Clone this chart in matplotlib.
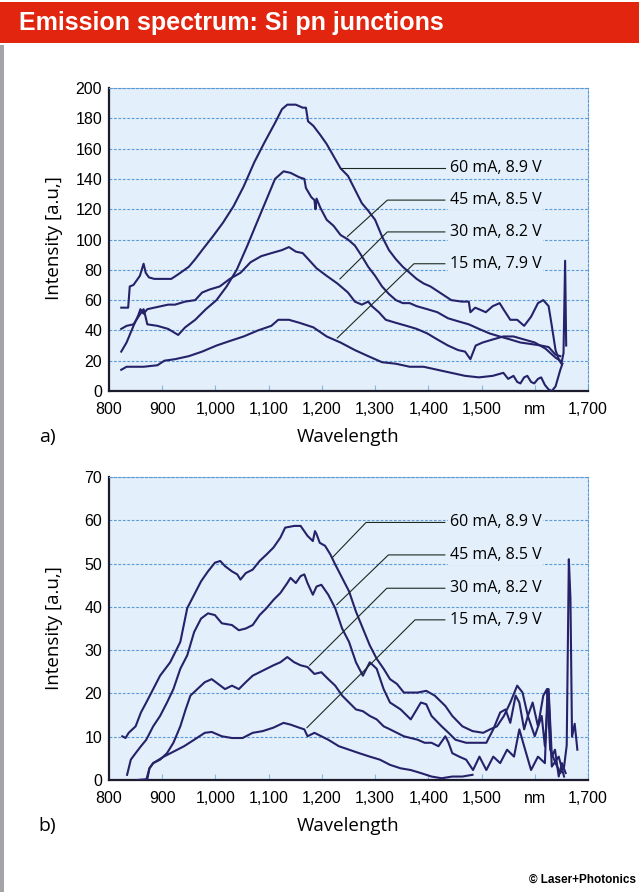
import matplotlib
matplotlib.use("Agg")
import matplotlib.pyplot as plt
from matplotlib import font_manager
from matplotlib.patches import Rectangle

# ---- data -----------------------------------------------------------------
LABELS = ["60 mA, 8.9 V", "45 mA, 8.5 V", "30 mA, 8.2 V", "15 mA, 7.9 V"]
XTICKS = [800, 900, 1000, 1100, 1200, 1300, 1400, 1500, 1600, 1700]
XTICK_LABELS = ["800", "900", "1,000", "1,100", "1,200", "1,300", "1,400",
                "1,500", "nm", "1,700"]

# panel a)
A60_WL = [823, 836, 839, 846, 852, 858, 865, 869, 875, 885, 900, 917, 930, 950,
          962, 975, 995, 1014, 1034, 1053, 1073, 1092, 1112, 1125, 1135, 1151,
          1164, 1170, 1174, 1184, 1197, 1209, 1222, 1235, 1249, 1262, 1275,
          1287, 1300, 1313, 1326, 1339, 1352, 1365, 1378, 1391, 1404, 1417,
          1430, 1443, 1463, 1476, 1479, 1488, 1495, 1508, 1521, 1534, 1541,
          1554, 1567, 1580, 1593, 1606, 1616, 1626, 1632, 1639, 1645, 1650,
          1654, 1657, 1659]
A60_I = [55, 55, 69, 70, 73, 76, 84, 78, 75, 74, 74, 74, 77, 82,
         87, 93, 102, 111, 122, 135, 151, 164, 177, 186, 189, 189,
         187, 187, 178, 175, 169, 163, 155, 147, 142, 133, 124,
         119, 113, 102, 93, 87, 82, 78, 74, 71, 69, 66,
         63, 60, 59, 59, 52, 55, 54, 52, 56, 58, 54,
         47, 47, 43, 49, 58, 60, 56, 43, 27, 21, 18,
         25, 86, 30]

A45_WL = [823, 833, 846, 859, 865, 868, 872, 891, 911, 930, 943, 962, 982,
          1002, 1021, 1040, 1060, 1080, 1099, 1112, 1128, 1141, 1158, 1167,
          1170, 1180, 1186, 1188, 1190, 1197, 1209, 1222, 1235, 1249, 1262,
          1275, 1287, 1300, 1313, 1326, 1339, 1352, 1365, 1378, 1398, 1417,
          1437, 1456, 1476, 1495, 1515, 1534, 1554, 1573, 1593, 1612, 1626,
          1639, 1648]
A45_I = [41, 43, 44, 51, 54, 50, 44, 43, 41, 37, 42, 47, 54,
         60, 69, 80, 96, 113, 129, 140, 145, 144, 141, 140,
         134, 128, 126, 120, 127, 121, 113, 109, 103, 100, 96,
         89, 82, 76, 69, 64, 60, 58, 58, 56, 54, 52,
         48, 46, 44, 41, 38, 36, 34, 32, 31, 30, 29,
         24, 23]

A30_WL = [823, 833, 846, 855, 859, 865, 872, 885, 898, 911, 924, 943, 962,
          975, 989, 1008, 1027, 1047, 1066, 1086, 1105, 1125, 1138, 1151,
          1164, 1177, 1190, 1209, 1229, 1249, 1262, 1275, 1287, 1294, 1307,
          1320, 1339, 1359, 1378, 1398, 1417, 1437, 1456, 1469, 1479, 1489,
          1502, 1521, 1541, 1560, 1580, 1600, 1620, 1639, 1648]
A30_I = [26, 32, 43, 50, 54, 51, 54, 55, 56, 57, 57, 59, 60,
         65, 67, 69, 74, 78, 85, 89, 91, 93, 95, 92,
         91, 86, 81, 76, 71, 65, 59, 57, 59, 56, 52,
         47, 45, 43, 41, 38, 34, 30, 27, 26, 21, 30,
         32, 34, 36, 36, 34, 32, 28, 22, 20]

A15_WL = [823, 833, 865, 891, 904, 924, 950, 975, 1002, 1027, 1053, 1080,
          1105, 1118, 1138, 1158, 1184, 1209, 1235, 1262, 1287, 1313, 1339,
          1365, 1391, 1417, 1443, 1469, 1495, 1521, 1541, 1550, 1560, 1567,
          1573, 1580, 1586, 1593, 1599, 1606, 1612, 1619, 1626, 1632, 1639,
          1648, 1652]
A15_I = [14, 16, 16, 17, 20, 21, 23, 26, 30, 33, 36, 40,
         43, 47, 47, 45, 42, 36, 32, 27, 23, 19, 18,
         16, 16, 14, 12, 10, 9, 10, 12, 8, 10, 6,
         5, 9, 10, 6, 5, 8, 9, 4, 1, 0, 3,
         14, 18]

# panel b)
B60_WL = [825, 831, 837, 850, 860, 870, 883, 896, 915, 934, 947, 960, 973,
          986, 999, 1009, 1018, 1031, 1041, 1047, 1057, 1070, 1083, 1096,
          1109, 1122, 1131, 1148, 1160, 1173, 1183, 1187, 1190, 1196, 1206,
          1216, 1225, 1238, 1251, 1264, 1277, 1290, 1303, 1316, 1328, 1341,
          1354, 1367, 1380, 1396, 1412, 1432, 1445, 1464, 1483, 1503, 1516,
          1529, 1542, 1554, 1567, 1577, 1587, 1596, 1606, 1616, 1623, 1629,
          1639, 1648, 1655, 1660, 1664, 1667, 1670, 1675, 1680]
B60_I = [10.1, 9.7, 10.9, 12.4, 15.6, 17.9, 21.0, 24.1, 27.2, 31.9, 39.7,
         42.8, 45.9, 48.2, 50.2, 50.6, 49.4, 48.2, 47.5, 46.3, 47.8, 48.6,
         50.6, 52.1, 53.7, 56.0, 58.3, 58.7, 58.7, 56.4, 55.2, 57.5, 56.8,
         54.8, 54.1, 52.1, 49.8, 46.7, 43.6, 38.9, 35.0, 31.1, 28.0, 25.7,
         23.3, 22.2, 20.2, 20.2, 20.2, 20.6, 19.5, 17.1, 14.8, 12.4, 11.3,
         10.9, 11.7, 12.4, 14.8, 17.9, 21.8, 20.2, 14.8, 17.9, 12.4, 19.5,
         21.0, 7.0, 3.9, 1.6, 3.0, 8.0, 51.0, 42.0, 10.0, 13.0, 7.0]

B45_WL = [834, 841, 850, 860, 870, 883, 896, 909, 921, 934, 947, 960, 973,
          986, 999, 1012, 1031, 1044, 1057, 1070, 1083, 1096, 1109, 1122,
          1135, 1141, 1151, 1160, 1167, 1173, 1183, 1190, 1199, 1212, 1225,
          1238, 1251, 1264, 1277, 1290, 1303, 1316, 1328, 1348, 1367, 1386,
          1396, 1406, 1425, 1438, 1451, 1471, 1490, 1509, 1522, 1535, 1545,
          1554, 1564, 1571, 1580, 1587, 1600, 1613, 1619, 1626, 1632, 1638,
          1645, 1651, 1658]
B45_I = [1.2, 4.7, 6.2, 7.8, 9.3, 12.4, 14.8, 17.9, 21.0, 25.7, 28.8, 34.2,
         37.3, 38.5, 38.1, 36.2, 35.8, 34.6, 35.0, 35.8, 38.1, 39.7, 41.6,
         43.2, 45.5, 46.7, 45.5, 47.1, 47.5, 45.5, 42.8, 44.7, 45.1, 42.8,
         39.7, 35.0, 31.9, 27.2, 24.1, 27.2, 25.7, 21.0, 17.9, 16.3, 14.0,
         17.9, 17.5, 14.8, 12.4, 10.9, 9.3, 8.6, 8.6, 8.6, 11.7, 15.6, 16.3,
         13.2, 19.5, 17.9, 11.7, 14.8, 10.1, 14.8, 7.8, 21.0, 5.4, 7.0,
         0.8, 3.9, 1.6]

B30_WL = [853, 872, 876, 883, 896, 909, 921, 934, 944, 953, 966, 980, 993,
          1005, 1018, 1031, 1044, 1057, 1070, 1083, 1096, 1109, 1122, 1135,
          1148, 1160, 1173, 1186, 1199, 1212, 1225, 1238, 1251, 1264, 1277,
          1290, 1303, 1316, 1328, 1341, 1354, 1367, 1380, 1393, 1406, 1419,
          1432, 1438, 1445, 1458, 1471, 1484, 1496, 1509, 1522, 1535, 1548,
          1561, 1571, 1580, 1593, 1606, 1619, 1624, 1626, 1632, 1645, 1655]
B30_I = [0.0, 0.2, 2.7, 3.9, 4.7, 6.2, 8.6, 12.4, 16.3, 19.5, 21.0, 22.6,
         23.3, 22.2, 21.0, 21.8, 21.0, 22.6, 24.1, 24.9, 25.7, 26.5, 27.2,
         28.4, 27.2, 26.5, 26.1, 24.5, 24.9, 23.3, 21.8, 19.5, 17.9, 16.3,
         15.9, 14.8, 14.0, 12.4, 11.7, 10.9, 10.1, 9.7, 9.3, 8.6, 8.6, 7.8,
         10.1, 8.6, 6.2, 5.4, 4.7, 2.3, 5.4, 2.3, 5.4, 3.9, 7.0, 5.4, 11.7,
         7.8, 2.3, 5.4, 3.9, 21.0, 19.5, 3.1, 5.4, 0.8]

B15_WL = [870, 876, 883, 903, 922, 941, 960, 980, 993, 1012, 1031, 1051,
          1070, 1089, 1109, 1128, 1141, 1157, 1167, 1173, 1186, 1199, 1212,
          1232, 1251, 1270, 1290, 1309, 1328, 1348, 1367, 1386, 1406, 1425,
          1445, 1464, 1483]
B15_I = [0.0, 2.7, 3.9, 5.4, 6.6, 7.8, 9.3, 10.9, 11.1, 10.1, 9.7, 9.7,
         10.9, 11.3, 12.1, 13.2, 12.8, 12.1, 11.7, 10.1, 10.9, 10.1, 9.3,
         7.8, 7.0, 6.2, 5.4, 4.7, 3.5, 2.7, 2.3, 1.6, 0.8, 0.4,
         0.8, 0.8, 1.2]

# label leader lines: curve point -> knee -> label row
A_LABEL_Y = [147, 126, 105, 84]
A_LEADER_X0 = [1235, 1248, 1234, 1229]
A_LEADER_Y0 = [147, 102, 74, 35]
A_LEADER_XK = [1235, 1323, 1323, 1373]
B_LABEL_Y = [59.5, 52.0, 44.3, 37.0]
B_LEADER_X0 = [1219, 1228, 1177, 1172]
B_LEADER_Y0 = [51.3, 40.5, 26.5, 12.1]
B_LEADER_XK = [1283, 1325, 1322, 1375]
LEADER_END = 1431
LABEL_X = 1440

# ---- style -----------------------------------------------------------------
W, H = 639, 892
BG = "#e3effa"
GRID = "#5d9bd6"
INK = "#25226a"
RED = "#e2250f"

names = {f.name for f in font_manager.fontManager.ttflist}
NARROW = "Liberation Sans Narrow" if "Liberation Sans Narrow" in names else None
TEXT_FONT = ["Open Sans", "DejaVu Sans"]
if NARROW:
    TICK_FONT, TICK_SIZE = [NARROW, "DejaVu Sans"], 12.5
    HEAD_SIZE = 21.5
else:
    TICK_FONT, TICK_SIZE = ["Liberation Sans", "DejaVu Sans"], 11.5
    HEAD_SIZE = 18


def fx(x):
    return x / W


def fy(y):
    return 1 - y / H


def panel(ax, curves, ymax, ystep, label_y, lx0, ly0, lxk):
    ax.set_facecolor(BG)
    for wl, inten in curves:
        ax.plot(wl, inten, color=INK, lw=1.5, zorder=3, solid_joinstyle="round")
    for text, y, x0, y0, xk in zip(LABELS, label_y, lx0, ly0, lxk):
        ax.plot([x0, xk, LEADER_END], [y0, y, y], color="#1d2a22", lw=0.8,
                zorder=4)
        ax.text(LABEL_X, y, text, va="center", ha="left", fontsize=11.5,
                family=TEXT_FONT, zorder=5,
                bbox=dict(facecolor=BG, edgecolor="none", pad=1.5))
    ax.set_xlim(800, 1700)
    ax.set_ylim(0, ymax)
    ax.set_xticks(XTICKS)
    ax.set_xticklabels(XTICK_LABELS, family=TICK_FONT, fontsize=TICK_SIZE)
    yt = list(range(0, ymax + 1, ystep))
    ax.set_yticks(yt)
    ax.set_yticklabels([str(v) for v in yt], family=TICK_FONT,
                       fontsize=TICK_SIZE)
    ax.tick_params(axis="x", direction="in", length=4, width=0.8,
                   color="#8bb8e0", pad=8)
    ax.tick_params(axis="y", length=0, pad=5)
    ax.yaxis.grid(True, color=GRID, lw=0.8, linestyle=(0, (2.5, 1.5)))
    ax.set_axisbelow(True)
    for s in ("left", "bottom"):
        ax.spines[s].set_color("#1b1b2b")
        ax.spines[s].set_linewidth(1.6)
    for s in ("top", "right"):
        ax.spines[s].set_color(GRID)
        ax.spines[s].set_linewidth(0.8)
        ax.spines[s].set_linestyle((0, (2.5, 1.5)))


fig = plt.figure(figsize=(W / 100, H / 100), dpi=100)
fig.patch.set_facecolor("white")

# header banner and page edge
fig.add_artist(Rectangle((0, fy(43)), 1, 41 / H, transform=fig.transFigure,
                         facecolor=RED, edgecolor="none"))
fig.add_artist(Rectangle((0, 0), 4 / W, fy(45), transform=fig.transFigure,
                         facecolor="#a3a3a8", edgecolor="none"))
fig.text(fx(19), fy(23), "Emission spectrum: Si pn junctions", color="white",
         fontsize=HEAD_SIZE, fontweight="bold", family=TICK_FONT,
         ha="left", va="center")

ax_a = fig.add_axes([fx(109), fy(391), (588 - 109) / W, (391 - 88) / H])
panel(ax_a, [(A60_WL, A60_I), (A45_WL, A45_I), (A30_WL, A30_I),
             (A15_WL, A15_I)], 200, 20, A_LABEL_Y, A_LEADER_X0, A_LEADER_Y0,
      A_LEADER_XK)

ax_b = fig.add_axes([fx(109), fy(780), (588 - 109) / W, (780 - 477) / H])
panel(ax_b, [(B60_WL, B60_I), (B45_WL, B45_I), (B30_WL, B30_I),
             (B15_WL, B15_I)], 70, 10, B_LABEL_Y, B_LEADER_X0, B_LEADER_Y0,
      B_LEADER_XK)

for yc, tag, yl in ((437, "a)", 238), (826, "b)", 628)):
    fig.text(fx(47), fy(yc), tag, fontsize=14, family=TEXT_FONT,
             ha="center", va="center")
    fig.text(fx(348), fy(yc), "Wavelength", fontsize=13.5, family=TEXT_FONT,
             ha="center", va="center")
    fig.text(fx(54), fy(yl), "Intensity [a.u,]", fontsize=13.5,
             family=TEXT_FONT, rotation=90, ha="center", va="center")

fig.text(fx(636), fy(880), "\u00a9 Laser+Photonics", fontsize=8.5,
         fontweight="bold", family=TICK_FONT, ha="right", va="center")

fig.savefig("out.png", dpi=100)
